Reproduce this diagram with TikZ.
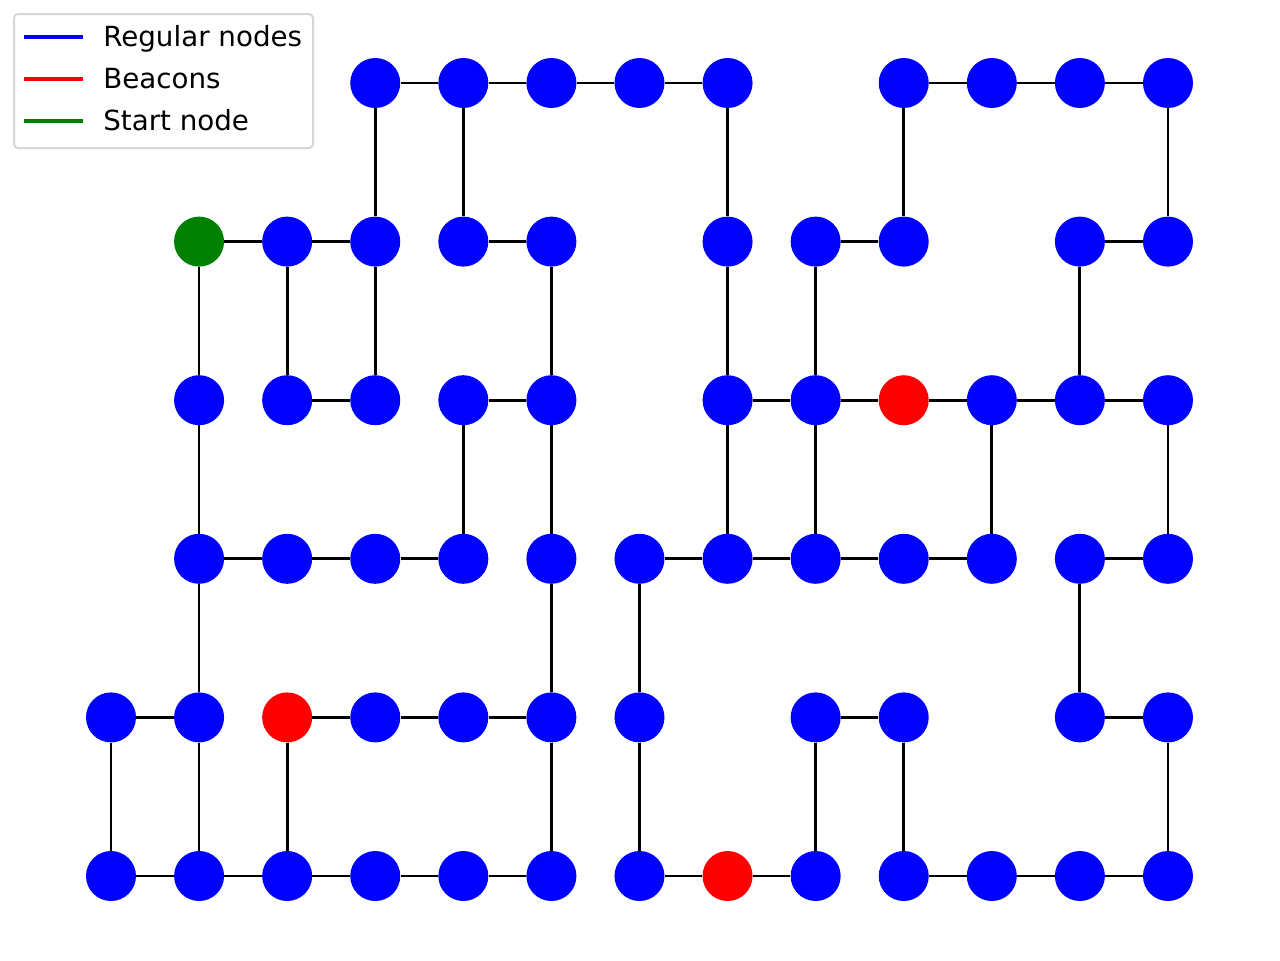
\documentclass[tikz,border=0pt]{standalone}
\usepackage{fontspec}
\setmainfont{DejaVu Sans}
\definecolor{mplgreen}{RGB}{0,128,0}
\definecolor{legendedge}{RGB}{214,214,214}
\begin{document}
\begin{tikzpicture}[x=0.75pt,y=-0.75pt,
  gnode/.style={circle,draw=none,inner sep=0pt,minimum size=37.5pt},
  regular/.style={gnode,fill=blue},
  beacon/.style={gnode,fill=red},
  startnode/.style={gnode,fill=mplgreen},
  edge/.style={draw=black,line width=2.1pt},
  legline/.style={line width=2.9pt},
  legtext/.style={anchor=base west,inner sep=0pt,font=\fontsize{20.8pt}{24pt}\selectfont}]
\useasboundingbox (0,0) rectangle (1280,960);
\fill[white] (0,0) rectangle (1280,960);
% nodes
\foreach \r/\cs in {0/{3,4,5,6,7,9,10,11,12},
                    1/{2,3,4,5,7,8,9,11,12},
                    2/{1,2,3,4,5,7,8,10,11,12},
                    3/{1,2,3,4,5,6,7,8,9,10,11,12},
                    4/{0,1,3,4,5,6,8,9,11,12},
                    5/{0,1,2,3,4,5,6,8,9,10,11,12}}{
  \foreach \c in \cs {
    \node[regular] (n-\c-\r) at ({111+88.08*\c},{83+158.6*\r}) {};
  }
}
\node[startnode] (n-1-1) at ({111+88.08*1},{83+158.6*1}) {};
\node[beacon] (n-9-2) at ({111+88.08*9},{83+158.6*2}) {};
\node[beacon] (n-2-4) at ({111+88.08*2},{83+158.6*4}) {};
\node[beacon] (n-7-5) at ({111+88.08*7},{83+158.6*5}) {};
% horizontal edges
\foreach \r/\cs in {0/{3,4,5,6,9,10,11},
                    1/{1,2,4,8,11},
                    2/{2,4,7,8,9,10,11},
                    3/{1,2,3,6,7,8,9,11},
                    4/{0,2,3,4,8,11},
                    5/{0,1,2,3,4,6,7,9,10,11}}{
  \foreach \c in \cs {
    \pgfmathtruncatemacro{\cn}{\c+1}
    \draw[edge] (n-\c-\r) -- (n-\cn-\r);
  }
}
% vertical edges
\foreach \r/\cs in {0/{3,4,7,9,12},
                    1/{1,2,3,5,7,8,11},
                    2/{1,4,5,7,8,10,12},
                    3/{1,5,6,11},
                    4/{0,1,2,5,6,8,9,12}}{
  \foreach \c in \cs {
    \pgfmathtruncatemacro{\rn}{\r+1}
    \draw[edge] (n-\c-\r) -- (n-\c-\rn);
  }
}
% legend
\draw[legendedge,fill=white,line width=1.5pt,rounded corners=3pt] (14,14) rectangle (313,148);
\coordinate (la1) at (24,37);  \coordinate (lb1) at (83,37);
\coordinate (la2) at (24,79);  \coordinate (lb2) at (83,79);
\coordinate (la3) at (24,121); \coordinate (lb3) at (83,121);
\draw[legline,blue] (la1) -- (lb1);
\draw[legline,red] (la2) -- (lb2);
\draw[legline,mplgreen] (la3) -- (lb3);
\node[legtext] (t1) at (103,46) {Regular nodes};
\node[legtext] (t2) at (103,88) {Beacons};
\node[legtext] (t3) at (103,130) {Start node};
\end{tikzpicture}
\end{document}
